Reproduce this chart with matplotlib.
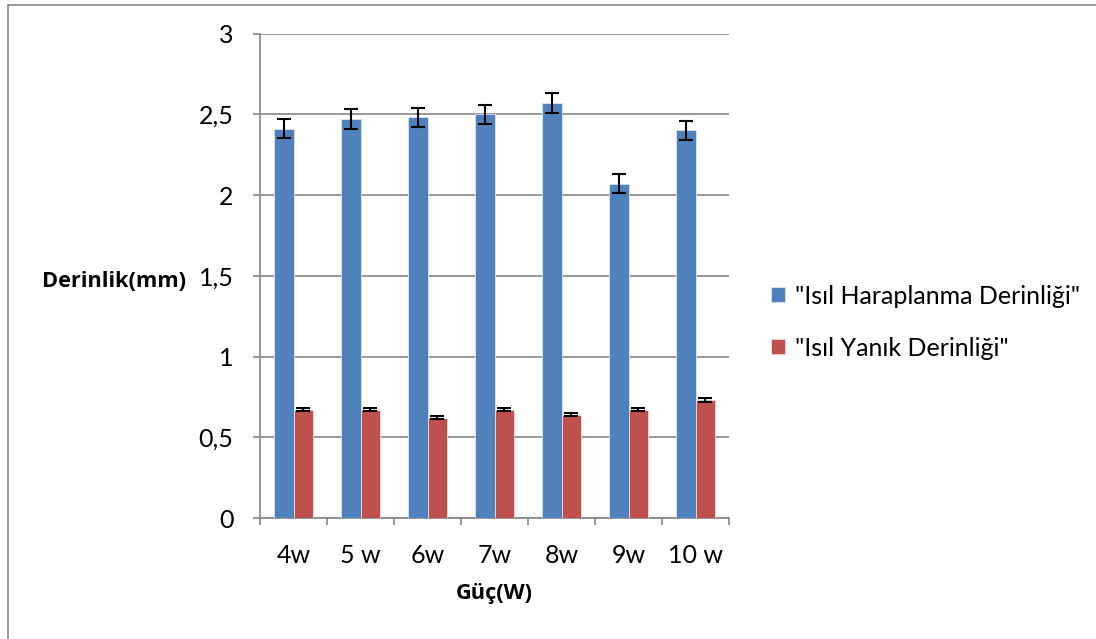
import numpy as np
import matplotlib.pyplot as plt
from matplotlib.lines import Line2D
from matplotlib.ticker import FuncFormatter

categories = ["4w", "5 w", "6w", "7w", "8w", "9w", "10 w"]
haraplanma = [2.41, 2.47, 2.48, 2.50, 2.57, 2.07, 2.40]
haraplanma_err = [0.06, 0.06, 0.06, 0.06, 0.06, 0.06, 0.06]
yanik = [0.67, 0.67, 0.62, 0.67, 0.64, 0.67, 0.73]
yanik_err = [0.01, 0.01, 0.01, 0.01, 0.01, 0.01, 0.01]
series_names = ['"Isıl Haraplanma Derinliği"', '"Isıl Yanık Derinliği"']

plt.rcParams['font.family'] = ['Lato', 'DejaVu Sans']
bold_font = ['Open Sans', 'DejaVu Sans']

W, H = 1096, 639
fig = plt.figure(figsize=(W / 100, H / 100), dpi=100)
# chart-area frame (top and left edges fall inside the canvas)
fig.lines.append(Line2D([7.5 / W, 1.0], [1 - 4.5 / H, 1 - 4.5 / H], transform=fig.transFigure,
                        color='#868686', linewidth=1.2))
fig.lines.append(Line2D([7.5 / W, 7.5 / W], [0.0, 1 - 4.5 / H], transform=fig.transFigure,
                        color='#868686', linewidth=1.2))

ax = fig.add_axes([260 / W, 1 - 518 / H, 469 / W, 484.5 / H])

x = np.arange(len(categories))
w = 1 / 3.5
blue, red = '#4F81BD', '#C0504D'
ekw = dict(ecolor='black', elinewidth=1.5, capsize=4.7, capthick=1.5)
ax.bar(x - w / 2, haraplanma, w, color=blue, edgecolor='#DCE6F2', linewidth=0.6,
       yerr=haraplanma_err, error_kw=ekw, label=series_names[0], zorder=3)
ax.bar(x + w / 2, yanik, w, color=red, edgecolor='#F2DCDB', linewidth=0.6,
       yerr=yanik_err, error_kw=ekw, label=series_names[1], zorder=3)

ax.set_xlim(-0.5, len(categories) - 0.5)
ax.set_ylim(0, 3)
ax.set_yticks(np.arange(0, 3.01, 0.5))
ax.yaxis.set_major_formatter(FuncFormatter(lambda v, p: f"{v:g}".replace('.', ',')))
ax.yaxis.grid(True, color='#868686', linewidth=1.2, zorder=0)
ax.set_axisbelow(True)

ax.set_xticks(x)
ax.set_xticklabels(categories)
ax.set_xticks(np.arange(-0.5, len(categories)), minor=True)
ax.tick_params(axis='x', which='major', length=0, pad=19, labelsize=18)
ax.tick_params(axis='x', which='minor', length=5, width=1.2, color='#868686', direction='out')
ax.tick_params(axis='y', length=5, width=1.2, color='#868686', pad=14, labelsize=18)

for s in ['top', 'right']:
    ax.spines[s].set_visible(False)
for s in ['left', 'bottom']:
    ax.spines[s].set_color('#868686')
    ax.spines[s].set_linewidth(1.2)

ax.set_xlabel("Güç(W)", fontsize=15.7, fontweight='bold', family=bold_font, va='center')
ax.xaxis.set_label_coords(0.5, (518 - 594) / 484.5)
ax.set_ylabel("Derinlik(mm)", fontsize=15.7, fontweight='bold', family=bold_font,
              rotation=0, ha='right', va='center')
ax.yaxis.set_label_coords((186 - 260) / 469, (518 - 281) / 484.5)

leg = ax.legend(loc='center left', bbox_to_anchor=((771 - 260) / 469, (518 - 322) / 484.5),
                frameon=False, fontsize=18, handlelength=0.55, handleheight=0.55,
                handletextpad=0.4, labelspacing=1.16, borderpad=0, borderaxespad=0)

fig.savefig("out.png", dpi=100)
